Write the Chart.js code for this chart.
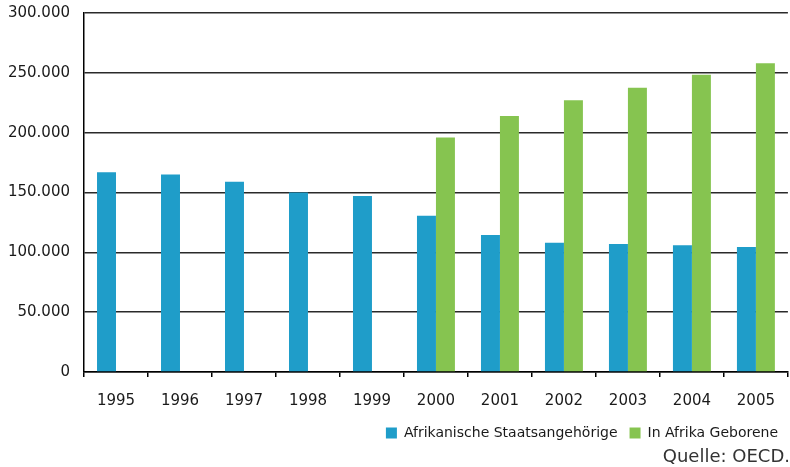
<!DOCTYPE html>
<html>
<head>
<meta charset="utf-8">
<script src="https://cdn.jsdelivr.net/npm/chart.js@4"></script>
<style>
  html, body { margin: 0; padding: 0; background: #fff; }
  #wrap { width: 790px; height: 467px; }
</style>
</head>
<body>
<div id="wrap"><canvas id="chart"></canvas></div>
<script>
// Daten
const years = ["1995", "1996", "1997", "1998", "1999", "2000", "2001", "2002", "2003", "2004", "2005"];
const staatsangehoerige = [167000, 165000, 159000, 150000, 147000, 130500, 114500, 108000, 107000, 106000, 104500];
const geborene = [null, null, null, null, null, 196000, 214000, 227000, 237500, 248500, 258000];
const yTicks = [0, 50000, 100000, 150000, 200000, 250000, 300000];

const fontFamily = "'DejaVu Sans', sans-serif";
const textColor = "#1a1a1a";

const ctx = document.getElementById("chart").getContext("2d");

new Chart(ctx, {
    type: "bar",
    data: {
        labels: years,
        datasets: [{
            label: "Afrikanische Staatsangehörige",
            data: staatsangehoerige,
            backgroundColor: "#1F9DC9"
        }, {
            label: "In Afrika Geborene",
            data: geborene,
            backgroundColor: "#86C450"
        }]
    },
    options: {
        responsive: true,
        maintainAspectRatio: false,
        animation: false,
        categoryPercentage: 0.593,
        barPercentage: 1,
        layout: {
            padding: { left: 8, right: 0, top: 13, bottom: 0 }
        },
        scales: {
            x: {
                afterFit: scale => {
                    scale.height = 42;
                },
                grid: {
                    offset: true,
                    drawOnChartArea: false,
                    drawTicks: true,
                    tickLength: 5,
                    color: "#000",
                    lineWidth: 1.5
                },
                border: { display: true, color: "#000", width: 1.5 },
                ticks: {
                    color: textColor,
                    padding: 15,
                    font: { family: fontFamily, size: 15 }
                }
            },
            y: {
                min: 0,
                max: 300000,
                afterBuildTicks: scale => {
                    scale.ticks = yTicks.map(v => ({ value: v }));
                },
                afterFit: scale => {
                    // feste Breite der Achse, kein Extra-Abstand oben
                    scale.width = 76;
                    scale.paddingTop = 0;
                    scale.paddingBottom = 0;
                },
                grid: {
                    drawTicks: false,
                    color: "#2a2a2a",
                    lineWidth: 1.5
                },
                border: { display: true, color: "#000", width: 1.5 },
                ticks: {
                    color: textColor,
                    padding: 14,
                    font: { family: fontFamily, size: 15 },
                    callback: v => v.toLocaleString("de-DE")
                }
            }
        },
        plugins: {
            legend: {
                position: "bottom",
                align: "end",
                maxHeight: 32,
                labels: {
                    color: textColor,
                    boxWidth: 11,
                    boxHeight: 11,
                    padding: 12,
                    font: { family: fontFamily, size: 14 }
                }
            },
            subtitle: {
                display: true,
                text: "Quelle: OECD.",
                position: "bottom",
                align: "end",
                color: "#333",
                padding: { top: 2, bottom: 1 },
                font: { family: fontFamily, size: 18, weight: "normal", lineHeight: 1.0 }
            },
            tooltip: { enabled: false }
        }
    }
});
</script>
</body>
</html>
